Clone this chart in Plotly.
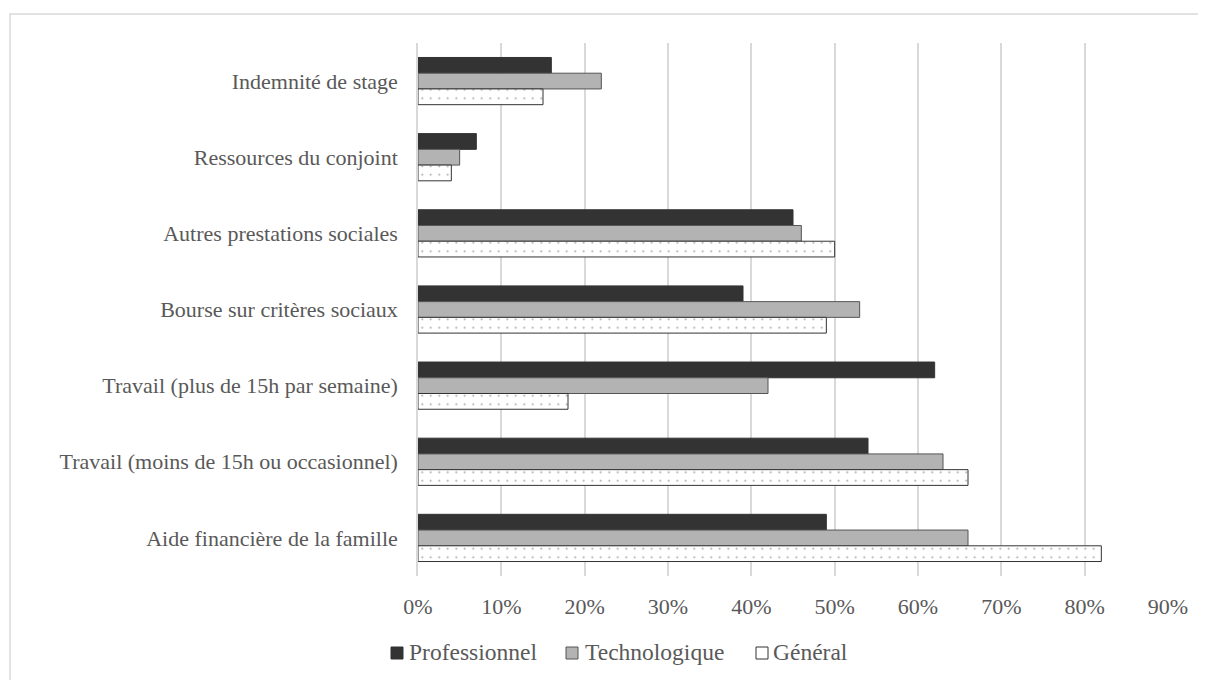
import plotly.graph_objects as go

categories = [
    "Indemnité de stage",
    "Ressources du conjoint",
    "Autres prestations sociales",
    "Bourse sur critères sociaux",
    "Travail (plus de 15h par semaine)",
    "Travail (moins de 15h ou occasionnel)",
    "Aide financière de la famille",
]
professionnel = [0.16, 0.07, 0.45, 0.39, 0.62, 0.54, 0.49]
technologique = [0.22, 0.05, 0.46, 0.53, 0.42, 0.63, 0.66]
general = [0.15, 0.04, 0.50, 0.49, 0.18, 0.66, 0.82]
x_ticks = [0, 0.1, 0.2, 0.3, 0.4, 0.5, 0.6, 0.7, 0.8, 0.9]
series_names = ["Professionnel", "Technologique", "Général"]

# page body has an 8px margin: figure covers page pixels 8..1206 x 8..680
OFF = 8
W, H = 1206 - OFF, 680 - OFF
L, R, T, B = 418 - OFF, 38, 43 - OFF, 104
pw, ph = W - L - R, H - T - B
PLOT_X0, PLOT_Y1 = 418, 576  # page pixel of plot-area left / bottom


def px_x(p):
    return (p - PLOT_X0) / pw


def px_y(p):
    return (PLOT_Y1 - p) / ph


fills = ["#333333", "#b3b3b3", "#ffffff"]
edges = ["#333333", "#555555", "#333333"]

fig = go.Figure()
fig.add_trace(go.Bar(
    name=series_names[0], y=categories, x=professionnel, orientation="h",
    marker=dict(color=fills[0], line=dict(color=edges[0], width=1)),
))
fig.add_trace(go.Bar(
    name=series_names[1], y=categories, x=technologique, orientation="h",
    marker=dict(color=fills[1], line=dict(color=edges[1], width=1)),
))
fig.add_trace(go.Bar(
    name=series_names[2], y=categories, x=general, orientation="h",
    marker=dict(color=fills[2], line=dict(color=edges[2], width=1),
                pattern=dict(shape=".", size=8.5, solidity=0.04,
                             fgcolor="#404040", bgcolor="#ffffff")),
))

font_family = "Liberation Serif"
text_color = "#595959"

# manual legend (squares + labels) placed like the reference
legend_sq = [391, 566, 756]
legend_tx = [407, 583, 771]
shapes = [dict(type="rect", xref="paper", yref="paper",
               x0=px_x(10), x1=px_x(1211), y0=px_y(685), y1=px_y(14),
               line=dict(color="#d9d9d9", width=1.5), fillcolor="rgba(0,0,0,0)",
               layer="below")]
annotations = []
for i, name in enumerate(series_names):
    shapes.append(dict(type="rect", xref="paper", yref="paper",
                       x0=px_x(legend_sq[i]), x1=px_x(legend_sq[i] + 12),
                       y0=px_y(659), y1=px_y(647),
                       line=dict(color=edges[i], width=1), fillcolor=fills[i]))
    annotations.append(dict(xref="paper", yref="paper", x=px_x(legend_tx[i]),
                            y=px_y(652), xanchor="left", yanchor="middle",
                            text=name, showarrow=False,
                            font=dict(family=font_family, size=23.5, color=text_color)))

fig.update_layout(
    width=W, height=H,
    margin=dict(l=L, r=R, t=T, b=B),
    paper_bgcolor="#ffffff", plot_bgcolor="#ffffff",
    barmode="group", bargap=0.38, bargroupgap=0,
    font=dict(family=font_family, size=22, color=text_color),
    showlegend=False,
    xaxis=dict(range=[0, 0.9], tickvals=x_ticks, tickformat=".0%",
               showgrid=True, gridcolor="#d9d9d9", gridwidth=1.5,
               zeroline=False, showline=False, ticks="",
               ticklabelstandoff=15),
    yaxis=dict(autorange="reversed", showgrid=False, zeroline=False,
               showline=True, linecolor="#d9d9d9", linewidth=1.5, ticks="",
               ticklabelstandoff=14),
    shapes=shapes,
    annotations=annotations,
)

fig.write_html("out.html")
